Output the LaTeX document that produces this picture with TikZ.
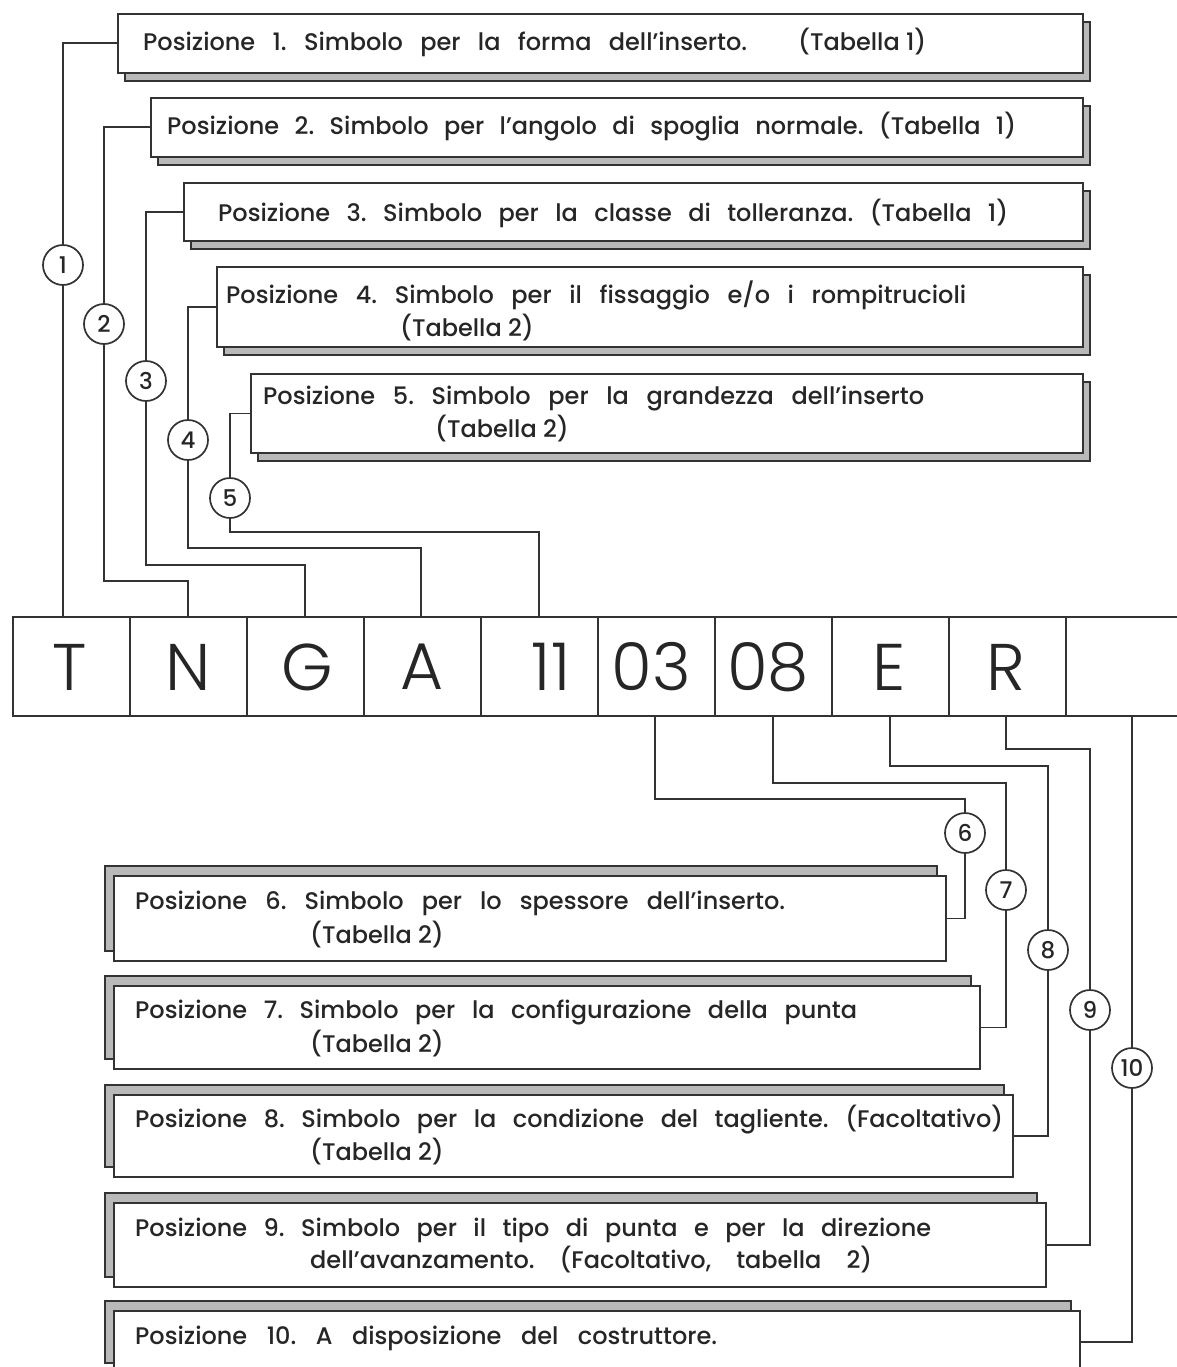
\documentclass[tikz,border=0pt]{standalone}
\usepackage{fontspec}
\setmainfont{Poppins}
\IfFontExistsTF{Poppins Light}{\newfontfamily\lightfont{Poppins Light}}{\newfontfamily\lightfont{Poppins}}
\IfFontExistsTF{Poppins Medium}{\newfontfamily\medfont{Poppins Medium}}{\newfontfamily\medfont{Poppins}}
\newcommand\txtfont{\medfont\fontsize{24}{28}\selectfont\frenchspacing}
\newcommand\numfont{\medfont\fontsize{23}{26}\selectfont}
\newcommand\codefont{\lightfont\fontsize{66}{72}\selectfont}
\newcommand\sline[2]{\makebox[#1pt][s]{#2}}
\begin{document}
\begin{tikzpicture}[x=1pt,y=-1pt,
  ln/.style={line width=1.7pt, draw=black!80},
  mainbox/.style={draw=black!80, line width=1.7pt, fill=white, rectangle, anchor=north west, inner sep=0pt},
  shadowbox/.style={draw=black!80, line width=1.2pt, fill=gray!55},
  num/.style={circle, draw=black!80, line width=1.7pt, fill=white, minimum size=40pt, inner sep=0pt, font=\numfont, text=black!85},
  codebox/.style={draw=black!80, line width=1.7pt, minimum width=117pt, minimum height=99pt, anchor=north west, inner sep=0pt},
  codetxt/.style={inner sep=0pt, font=\codefont, text=black!85},
  txt/.style={anchor=base west, inner sep=0pt, font=\txtfont, text=black!85}]
\useasboundingbox (0,0) rectangle (1177,1367);
\clip (0,0) rectangle (1177,1367);
\fill[white] (0,0) rectangle (1177,1367);

% ---------- top boxes ----------
\draw[shadowbox] (125,22) rectangle (1090,81);
\node[mainbox, minimum width=965pt, minimum height=59pt] (b1) at (117,13) {};
\draw[shadowbox] (158,106) rectangle (1090,165);
\node[mainbox, minimum width=932pt, minimum height=59pt] (b2) at (150,97) {};
\draw[shadowbox] (191,191) rectangle (1090,249);
\node[mainbox, minimum width=899pt, minimum height=58pt] (b3) at (183,182) {};
\draw[shadowbox] (224,275) rectangle (1090,355);
\node[mainbox, minimum width=866pt, minimum height=80pt] (b4) at (216,266) {};
\draw[shadowbox] (258,382) rectangle (1090,461);
\node[mainbox, minimum width=832pt, minimum height=79pt] (b5) at (250,373) {};

\node[txt] (t1a) at (143,51) {\sline{604}{Posizione 1. Simbolo per la forma dell’inserto.}};
\node[txt] (t1b) at (798,51) {(Tabella 1)};
\node[txt] (t2) at (167,135) {\sline{849}{Posizione 2. Simbolo per l’angolo di spoglia normale. (Tabella 1)}};
\node[txt] (t3) at (218,222) {\sline{790}{Posizione 3. Simbolo per la classe di tolleranza. (Tabella 1)}};
\node[txt] (t4a) at (226,303) {\sline{740}{Posizione 4. Simbolo per il fissaggio e/o i rompitrucioli}};
\node[txt] (t4b) at (400,336) {(Tabella 2)};
\node[txt] (t5a) at (263,404) {\sline{661}{Posizione 5. Simbolo per la grandezza dell’inserto}};
\node[txt] (t5b) at (435,437) {(Tabella 2)};

% ---------- bottom boxes ----------
\draw[shadowbox] (105,866) rectangle (937,951);
\node[mainbox, minimum width=832pt, minimum height=85pt] (b6) at (113,875) {};
\draw[shadowbox] (105,976) rectangle (971,1059);
\node[mainbox, minimum width=866pt, minimum height=83pt] (b7) at (113,985) {};
\draw[shadowbox] (105,1085) rectangle (1004,1167);
\node[mainbox, minimum width=899pt, minimum height=82pt] (b8) at (113,1094) {};
\draw[shadowbox] (105,1193) rectangle (1037,1277);
\node[mainbox, minimum width=932pt, minimum height=84pt] (b9) at (113,1202) {};
\draw[shadowbox] (105,1301) rectangle (1071,1363);
\node[mainbox, minimum width=966pt, minimum height=62pt] (b10) at (113,1310) {};

\node[txt] (t6a) at (135,909) {\sline{650}{Posizione 6. Simbolo per lo spessore dell’inserto.}};
\node[txt] (t6b) at (310,943) {(Tabella 2)};
\node[txt] (t7a) at (135,1018) {\sline{722}{Posizione 7. Simbolo per la configurazione della punta}};
\node[txt] (t7b) at (310,1052) {(Tabella 2)};
\node[txt] (t8a) at (135,1127) {\sline{868}{Posizione 8. Simbolo per la condizione del tagliente. (Facoltativo)}};
\node[txt] (t8b) at (310,1160) {(Tabella 2)};
\node[txt] (t9a) at (135,1236) {\sline{796}{Posizione 9. Simbolo per il tipo di punta e per la direzione}};
\node[txt] (t9b) at (310,1268) {\sline{562}{dell’avanzamento. (Facoltativo, tabella 2)}};
\node[txt] (t10) at (135,1344) {\sline{582}{Posizione 10. A disposizione del costruttore.}};

% ---------- code row ----------
\node[codebox] (cT) at (12,616) {};
\node[codebox] (cN) at (129,616) {};
\node[codebox] (cG) at (246,616) {};
\node[codebox] (cA) at (363,616) {};
\node[codebox] (c11) at (480,616) {};
\node[codebox] (c03) at (597,616) {};
\node[codebox] (c08) at (714,616) {};
\node[codebox] (cE) at (831,616) {};
\node[codebox] (cR) at (948,616) {};
\node[codebox, minimum width=113pt] (cX) at (1065,616) {};
\node[codetxt] at (70,667) {T};
\node[codetxt] at (188,667) {N};
\node[codetxt] at (307,667) {G};
\node[codetxt] at (422,667) {A};
\node[codetxt] at (551,667) {11};
\node[codetxt] at (651,667) {03};
\node[codetxt] at (768,667) {08};
\node[codetxt] at (889,667) {E};
\node[codetxt] at (1006,667) {R};

% ---------- circles ----------
\node[num] (n1) at (63,265) {1};
\node[num] (n2) at (104,324) {2};
\node[num] (n3) at (146,381) {3};
\node[num] (n4) at (188,440) {4};
\node[num] (n5) at (230,498) {5};
\node[num] (n6) at (965,833) {6};
\node[num] (n7) at (1006,890) {7};
\node[num] (n8) at (1048,950) {8};
\node[num] (n9) at (1090,1010) {9};
\node[num] (n10) at (1132,1068) {10};

% ---------- connectors (top) ----------
\coordinate (k1) at (63,616);
\coordinate (k2) at (188,581);
\coordinate (k3) at (305,565);
\coordinate (k4) at (421,548);
\coordinate (k5) at (539,532);
\draw[ln] (b1.west) -| (n1.north);
\draw[ln] (n1.south) -- (k1);
\draw[ln] (b2.west) -| (n2.north);
\draw[ln] (n2.south) |- (k2) -- (k2 |- cN.north);
\draw[ln] (b3.west) -| (n3.north);
\draw[ln] (n3.south) |- (k3) -- (k3 |- cG.north);
\draw[ln] (b4.west) -| (n4.north);
\draw[ln] (n4.south) |- (k4) -- (k4 |- cA.north);
\draw[ln] (b5.west) -| (n5.north);
\draw[ln] (n5.south) |- (k5) -- (k5 |- c11.north);

% ---------- connectors (bottom) ----------
\coordinate (k6) at (655,799);
\coordinate (k7) at (773,783);
\coordinate (k8) at (890,766);
\coordinate (k9) at (1006,749);
\coordinate (k10) at (1132,715);
\draw[ln] (k6 |- c03.south) -- (k6) -| (n6.north);
\draw[ln] (n6.south) |- (b6.east);
\draw[ln] (k7 |- c08.south) -- (k7) -| (n7.north);
\draw[ln] (n7.south) |- (b7.east);
\draw[ln] (k8 |- cE.south) -- (k8) -| (n8.north);
\draw[ln] (n8.south) |- (b8.east);
\draw[ln] (k9 |- cR.south) -- (k9) -| (n9.north);
\draw[ln] (n9.south) |- (b9.east);
\draw[ln] (k10) -- (n10.north);
\draw[ln] (n10.south) |- (b10.east);
\end{tikzpicture}
\end{document}
